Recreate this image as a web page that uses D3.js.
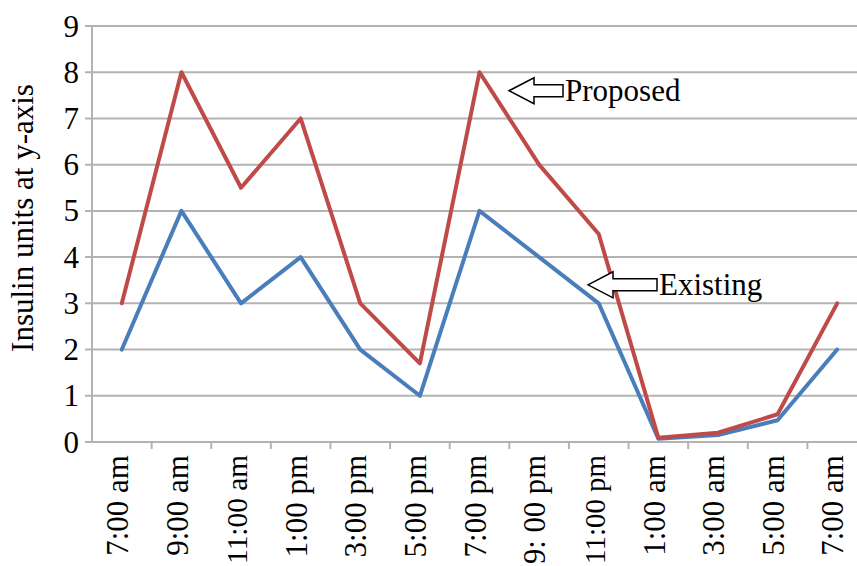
<!DOCTYPE html>
<html>
<head>
<meta charset="utf-8">
<script src="https://cdn.jsdelivr.net/npm/d3@7"></script>
<style>
  html, body { margin: 0; padding: 0; background: #fff; overflow: hidden; }
  svg { display: block; }
  text { font-family: "Liberation Serif", "Times New Roman", serif; fill: #000; }
</style>
</head>
<body>
<script>
const categories = ["7:00 am", "9:00 am", "11:00 am", "1:00 pm", "3:00 pm", "5:00 pm", "7:00 pm", "9: 00 pm", "11:00 pm", "1:00 am", "3:00 am", "5:00 am", "7:00 am"];
const existing = [2, 5, 3, 4, 2, 1, 5, 4, 3, 0.07, 0.15, 0.47, 2];
const proposed = [3, 8, 5.5, 7, 3, 1.7, 8, 6, 4.5, 0.09, 0.2, 0.6, 3];
const yTicks = [0, 1, 2, 3, 4, 5, 6, 7, 8, 9];
const yTitle = "Insulin units at y-axis";
const annotations = [
  { label: "Proposed", cat: 7, value: 7.6 },
  { label: "Existing", cat: 8, value: 3.4 }
];

const W = 857, H = 566;
const FS = 31;
const svg = d3.select("body").append("svg").attr("width", W).attr("height", H);

const idx = categories.map((d, i) => i);
const x = d3.scaleBand().domain(idx).range([92, 867]).padding(0);
const y = d3.scaleLinear().domain([0, 9]).range([442, 26]);
const cx = i => x(i) + x.bandwidth() / 2;

const gridColor = "#b3b3b3";

// gridlines
svg.append("g").selectAll("line").data(yTicks).join("line")
  .attr("x1", 85).attr("x2", W + 20)
  .attr("y1", d => y(d)).attr("y2", d => y(d))
  .attr("stroke", gridColor).attr("stroke-width", 2);

// y axis line
svg.append("line").attr("x1", 92).attr("x2", 92)
  .attr("y1", y(9)).attr("y2", y(0) + 1)
  .attr("stroke", gridColor).attr("stroke-width", 2);

// x ticks at category boundaries
svg.append("g").selectAll("line").data(idx.slice(1)).join("line")
  .attr("x1", d => x(d)).attr("x2", d => x(d))
  .attr("y1", y(0)).attr("y2", y(0) + 7)
  .attr("stroke", gridColor).attr("stroke-width", 2);

// y tick labels
svg.append("g").selectAll("text").data(yTicks).join("text")
  .attr("x", 79).attr("y", d => y(d)).attr("dy", "0.34em")
  .attr("text-anchor", "end").attr("font-size", FS)
  .text(d => d);

// x tick labels (long ones shrunk slightly so they stay inside the picture)
const labelTop = 455;
svg.append("g").selectAll("text").data(idx).join("text")
  .attr("transform", d => `translate(${cx(d)},${labelTop}) rotate(-90)`)
  .attr("dy", "0.2em")
  .attr("text-anchor", "end").attr("font-size", FS)
  .text(d => categories[d])
  .each(function () {
    const len = this.getComputedTextLength();
    const avail = H - labelTop - 2;
    if (len > avail) d3.select(this).attr("font-size", FS * avail / len);
  });

// y title
svg.append("text")
  .attr("transform", "translate(33,218) rotate(-90)")
  .attr("text-anchor", "middle").attr("font-size", FS)
  .text(yTitle);

// lines
const line = d3.line().x((d, i) => cx(i)).y(d => y(d));
svg.append("path").datum(existing).attr("d", line)
  .attr("fill", "none").attr("stroke", "#4a7ebb").attr("stroke-width", 4)
  .attr("stroke-linejoin", "round").attr("stroke-linecap", "round");
svg.append("path").datum(proposed).attr("d", line)
  .attr("fill", "none").attr("stroke", "#be4b48").attr("stroke-width", 4)
  .attr("stroke-linejoin", "round").attr("stroke-linecap", "round");

// annotations: block arrows with labels
const arrowG = svg.append("g");
annotations.forEach((a, k) => {
  const tipX = k === 0 ? 509 : 588;
  const tipY = y(a.value);
  const headBack = tipX + 25;
  const bodyRight = tipX + (k === 0 ? 54 : 69);
  const hh = 13, bh = 6;
  const pts = [
    [tipX, tipY], [headBack, tipY - hh], [headBack, tipY - bh],
    [bodyRight, tipY - bh], [bodyRight, tipY + bh], [headBack, tipY + bh],
    [headBack, tipY + hh]
  ];
  arrowG.append("polygon")
    .attr("points", pts.map(p => p.join(",")).join(" "))
    .attr("fill", "#fff").attr("stroke", "#000").attr("stroke-width", 1.5);
  arrowG.append("text")
    .attr("x", bodyRight + 2).attr("y", tipY + 10)
    .attr("font-size", FS)
    .text(a.label);
});
</script>
</body>
</html>
